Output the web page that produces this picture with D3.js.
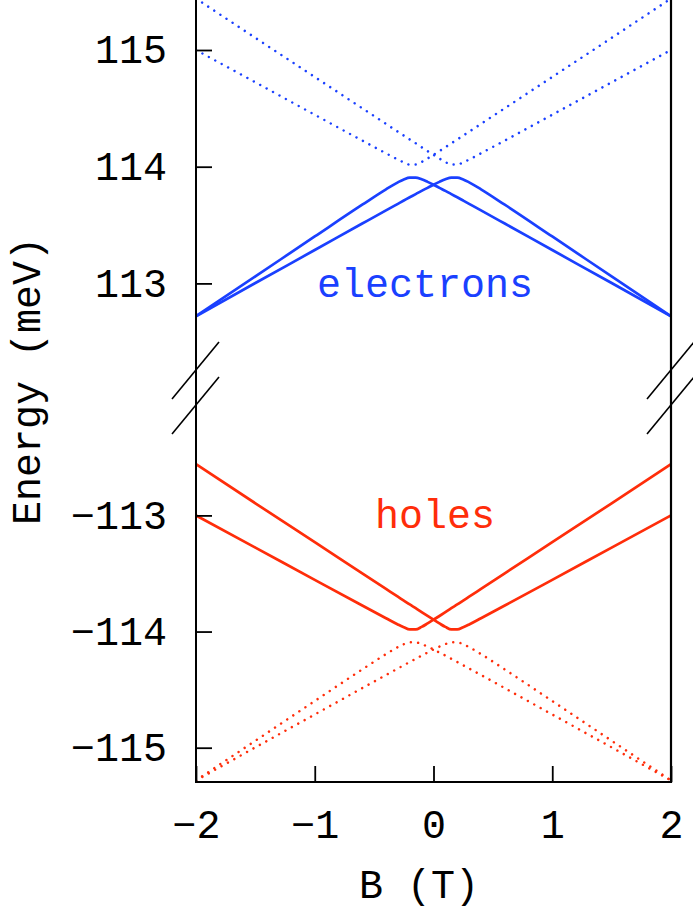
<!DOCTYPE html>
<html><head><meta charset="utf-8">
<script src="https://cdn.jsdelivr.net/npm/d3@7"></script>
<style>html,body{margin:0;padding:0;background:#fff}</style>
</head><body>
<svg id="c" width="693" height="913"></svg>
<script>
// ---- data ----
const fieldB = [-2,-1.5,-1,-0.6,-0.4,-0.3,-0.25,-0.2,-0.15,-0.1,-0.05,0,0.05,0.1,0.15,0.2,0.25,0.3,0.4,0.6,1,1.5,2];
const elecSolid1 = [112.719,113.060,113.402,113.674,113.806,113.866,113.891,113.907,113.907,113.892,113.870,113.846,113.819,113.793,113.765,113.738,113.710,113.682,113.626,113.513,113.286,113.003,112.718];
const elecSolid2 = [112.718,113.003,113.286,113.513,113.626,113.682,113.710,113.738,113.765,113.793,113.819,113.846,113.870,113.892,113.907,113.907,113.891,113.866,113.806,113.674,113.402,113.060,112.719];
const elecDot1 = [115.000,114.723,114.445,114.224,114.115,114.061,114.037,114.018,114.018,114.040,114.070,114.102,114.134,114.167,114.201,114.233,114.267,114.300,114.367,114.501,114.769,115.104,115.441];
const elecDot2 = [115.441,115.104,114.769,114.501,114.367,114.300,114.267,114.233,114.201,114.167,114.134,114.102,114.070,114.040,114.018,114.018,114.037,114.061,114.115,114.224,114.445,114.723,115.000];
const holeSolid1 = [-113.000,-113.277,-113.555,-113.776,-113.885,-113.939,-113.963,-113.982,-113.982,-113.960,-113.930,-113.898,-113.866,-113.833,-113.799,-113.767,-113.733,-113.700,-113.633,-113.499,-113.231,-112.896,-112.559];
const holeSolid2 = [-112.559,-112.896,-113.231,-113.499,-113.633,-113.700,-113.733,-113.767,-113.799,-113.833,-113.866,-113.898,-113.930,-113.960,-113.982,-113.982,-113.963,-113.939,-113.885,-113.776,-113.555,-113.277,-113.000];
const holeDot1 = [-115.281,-114.940,-114.598,-114.326,-114.194,-114.134,-114.109,-114.093,-114.093,-114.108,-114.130,-114.154,-114.181,-114.207,-114.235,-114.262,-114.290,-114.318,-114.374,-114.487,-114.714,-114.997,-115.282];
const holeDot2 = [-115.282,-114.997,-114.714,-114.487,-114.374,-114.318,-114.290,-114.262,-114.235,-114.207,-114.181,-114.154,-114.130,-114.108,-114.093,-114.093,-114.109,-114.134,-114.194,-114.326,-114.598,-114.940,-115.281];
const xTicks = [-2,-1,0,1,2];
const upperTicks = [113,114,115];
const lowerTicks = [-115,-114,-113];
const labels = {x:"B (T)", y:"Energy (meV)", elec:"electrons", hole:"holes"};

// ---- layout ----
const L = 196, R = 671, BOT = 782, BRK = 387;
const FONT = "'Liberation Mono', 'Courier New', monospace";
const BLUE = "#1a40ff", RED = "#ff2d0a";
const svg = d3.select("#c");

const x = d3.scaleLinear().domain([-2,2]).range([L,R]);
const yU = d3.scaleLinear().domain([113,115]).range([283.4,50]);
const yD = d3.scaleLinear().domain([-115,-113]).range([747.7,515.4]);

const defs = svg.append("defs");
defs.append("clipPath").attr("id","cu").append("rect").attr("x",L).attr("y",-20).attr("width",R-L).attr("height",BRK+20);
defs.append("clipPath").attr("id","cd").append("rect").attr("x",L).attr("y",BRK).attr("width",R-L).attr("height",BOT-BRK);

function draw(vals, y, color, dotted, clip){
  const line = d3.line().x((d,i)=>x(fieldB[i])).y(d=>y(d)).curve(d3.curveMonotoneX);
  const p = svg.append("path").attr("d", line(vals)).attr("fill","none")
    .attr("stroke",color).attr("clip-path","url(#"+clip+")");
  if(dotted){ p.attr("stroke-width",2.5).attr("stroke-dasharray","0.01 7.3").attr("stroke-linecap","round"); }
  else { p.attr("stroke-width",2.7); }
}
draw(elecDot1, yU, BLUE, true, "cu");
draw(elecDot2, yU, BLUE, true, "cu");
draw(elecSolid1, yU, BLUE, false, "cu");
draw(elecSolid2, yU, BLUE, false, "cu");
draw(holeDot1, yD, RED, true, "cd");
draw(holeDot2, yD, RED, true, "cd");
draw(holeSolid1, yD, RED, false, "cd");
draw(holeSolid2, yD, RED, false, "cd");

// axes
function styleAxis(g){
  g.select(".domain").remove();
  g.selectAll(".tick line").attr("stroke","#000").attr("stroke-width",1.8);
  g.selectAll(".tick text").attr("font-family",FONT).attr("font-size",40).attr("fill","#000");
}
svg.append("g").attr("transform",`translate(${L},0)`)
  .call(d3.axisLeft(yU).tickValues(upperTicks).tickSize(-16).tickPadding(29).tickFormat(d3.format("d"))).call(styleAxis);
svg.append("g").attr("transform",`translate(${L},0)`)
  .call(d3.axisLeft(yD).tickValues(lowerTicks).tickSize(-16).tickPadding(29).tickFormat(d3.format("d"))).call(styleAxis);
svg.append("g").attr("transform",`translate(0,${BOT})`)
  .call(d3.axisBottom(x).tickValues(xTicks).tickSize(-16).tickPadding(28).tickFormat(d3.format("d"))).call(styleAxis);

// frame
svg.append("line").attr("x1",L).attr("x2",L).attr("y1",-5).attr("y2",BOT+1).attr("stroke","#000").attr("stroke-width",2);
svg.append("line").attr("x1",R).attr("x2",R).attr("y1",-5).attr("y2",BOT+1).attr("stroke","#000").attr("stroke-width",2.2);
svg.append("line").attr("x1",L-1).attr("x2",R+1).attr("y1",BOT).attr("y2",BOT).attr("stroke","#000").attr("stroke-width",2.2);

// break marks
[L,R].forEach(cx=>{
  [370,405].forEach(cy=>{
    svg.append("line").attr("x1",cx-24).attr("y1",cy+29).attr("x2",cx+23).attr("y2",cy-28)
      .attr("stroke","#000").attr("stroke-width",1.6);
  });
});

// labels
svg.append("text").attr("x",425).attr("y",297).attr("text-anchor","middle")
  .attr("font-family",FONT).attr("font-size",40).attr("fill",BLUE).text(labels.elec);
svg.append("text").attr("x",435).attr("y",528).attr("text-anchor","middle")
  .attr("font-family",FONT).attr("font-size",40).attr("fill",RED).text(labels.hole);
svg.append("text").attr("x",419).attr("y",898).attr("text-anchor","middle")
  .attr("font-family",FONT).attr("font-size",40).attr("fill","#000").text(labels.x);
svg.append("text").attr("transform","translate(40,381) rotate(-90)").attr("text-anchor","middle")
  .attr("font-family",FONT).attr("font-size",40).attr("fill","#000").text(labels.y);
</script>
</body></html>
